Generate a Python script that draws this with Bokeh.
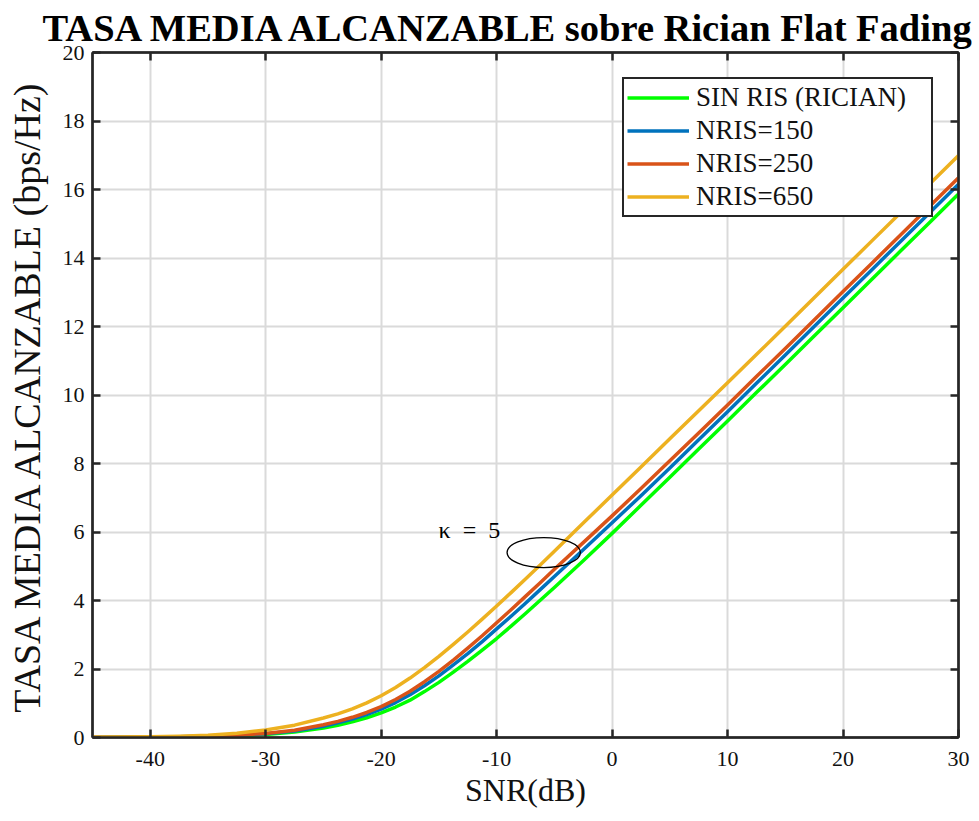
from bokeh.plotting import figure
from bokeh.models import (Range1d, FixedTicker, LinearAxis, Legend, LegendItem,
                          Label, Title, CustomJSTickFormatter)
from bokeh.embed import file_html
from bokeh.resources import INLINE

# ---------------- data ----------------
snr_db = [-45, -42.5, -40, -37.5, -35, -32.5, -30, -27.5,
          -25, -23.75, -22.5, -21.25, -20, -18.75, -17.5, -16.25, -15,
          -13.75, -12.5, -11.25, -10, -8.75, -7.5, -6.25, -5,
          -2.5, 0, 2.5, 5, 7.5, 10, 12.5, 15, 17.5, 20, 22.5, 25, 27.5, 30]

rate_sin_ris = [0.003, 0.005, 0.009, 0.016, 0.028, 0.05, 0.09, 0.16,
                0.28, 0.36, 0.455, 0.575, 0.72, 0.89, 1.09, 1.34, 1.61,
                1.91, 2.22, 2.55, 2.89, 3.25, 3.62, 4.00, 4.38,
                5.16, 5.96, 6.78, 7.60, 8.42, 9.24, 10.07, 10.89, 11.72, 12.55,
                13.38, 14.21, 15.04, 15.87]

rate_nris_150 = [0.0035, 0.006, 0.011, 0.019, 0.034, 0.06, 0.11, 0.19,
                 0.33, 0.43, 0.54, 0.67, 0.83, 1.02, 1.25, 1.51, 1.80,
                 2.12, 2.45, 2.80, 3.17, 3.54, 3.92, 4.31, 4.70,
                 5.48, 6.27, 7.06, 7.87, 8.69, 9.51, 10.34, 11.17, 12.00, 12.83,
                 13.66, 14.49, 15.32, 16.15]

rate_nris_250 = [0.004, 0.007, 0.012, 0.022, 0.039, 0.068, 0.12, 0.21,
                 0.37, 0.47, 0.59, 0.73, 0.90, 1.11, 1.35, 1.63, 1.93,
                 2.26, 2.61, 2.97, 3.35, 3.73, 4.12, 4.51, 4.91,
                 5.69, 6.47, 7.27, 8.08, 8.89, 9.71, 10.54, 11.36, 12.19, 13.02,
                 13.85, 14.68, 15.51, 16.34]

rate_nris_650 = [0.006, 0.011, 0.020, 0.037, 0.068, 0.125, 0.22, 0.36,
                 0.57, 0.69, 0.835, 1.01, 1.22, 1.46, 1.735, 2.04, 2.37,
                 2.72, 3.08, 3.455, 3.84, 4.23, 4.63, 5.03, 5.44,
                 6.26, 7.08, 7.90, 8.72, 9.54, 10.36, 11.18, 12.01, 12.84, 13.67,
                 14.50, 15.33, 16.16, 16.99]

series_labels = ["SIN RIS (RICIAN)", "NRIS=150", "NRIS=250", "NRIS=650"]
series_colors = ["#00FF00", "#0072BD", "#D95319", "#EDB120"]

x_ticks = [-40, -30, -20, -10, 0, 10, 20, 30]
x_tick_labels = ["-40", "-30", "-20", "-10", "0", "10", "20", "30"]
y_ticks = [0, 2, 4, 6, 8, 10, 12, 14, 16, 18, 20]

title_text = "TASA MEDIA ALCANZABLE sobre Rician Flat Fading"
x_label = "SNR(dB)"
y_label = "TASA MEDIA ALCANZABLE (bps/Hz)"

kappa_text = "\u03ba\u2002=\u20025"
kappa_x = [-15.03]
kappa_y = [6.06]
ellipse_x = [-5.92]
ellipse_y = [5.40]
ellipse_w = [6.35]
ellipse_h = [0.876]

# ---------------- figure ----------------
AX = "#262626"
SERIF = "Liberation Serif"
W, H = 975, 817

p = figure(width=W, height=H,
           x_range=Range1d(-45, 30), y_range=Range1d(0, 20),
           output_backend="svg", toolbar_location=None, title=None,
           min_border_left=92, min_border_right=W - 958,
           min_border_top=52, min_border_bottom=H - 737,
           background_fill_color="white", border_fill_color="white",
           outline_line_color=AX, outline_line_width=2)

# grid
for g in (p.xgrid[0], p.ygrid[0]):
    g.grid_line_color = "#dadada"
    g.grid_line_width = 2
p.xgrid[0].ticker = FixedTicker(ticks=x_ticks)
p.ygrid[0].ticker = FixedTicker(ticks=y_ticks)

def style_axis(ax):
    ax.axis_line_color = AX
    ax.axis_line_width = 2.5
    ax.major_tick_line_color = AX
    ax.major_tick_line_width = 2.5
    ax.major_tick_in = 8
    ax.major_tick_out = 0
    ax.minor_tick_line_color = None
    ax.major_label_text_color = "#111111"
    ax.major_label_text_font = SERIF
    ax.axis_label_text_font = SERIF
    ax.axis_label_text_font_style = "normal"
    ax.axis_label_text_color = "#111111"

xa = p.xaxis[0]
style_axis(xa)
xa.ticker = FixedTicker(ticks=x_ticks)
xa.major_label_overrides = {t: s for t, s in zip(x_ticks, x_tick_labels)}
xa.major_label_text_font_size = "22px"
xa.major_label_standoff = 14
xa.axis_label = x_label
xa.axis_label_text_font_size = "32px"
xa.axis_label_standoff = 3

ya = p.yaxis[0]
style_axis(ya)
ya.ticker = FixedTicker(ticks=y_ticks)
ya.major_label_text_font_size = "22px"
ya.major_label_standoff = 8
ya.axis_label = y_label
ya.axis_label_text_font_size = "38px"
ya.axis_label_standoff = 12

blank = CustomJSTickFormatter(code="return ''")
top_ax = LinearAxis(ticker=FixedTicker(ticks=x_ticks), formatter=blank)
style_axis(top_ax)
top_ax.major_label_text_font_size = "1px"
top_ax.major_label_standoff = 0
right_ax = LinearAxis(ticker=FixedTicker(ticks=y_ticks), formatter=blank)
style_axis(right_ax)
right_ax.major_label_text_font_size = "1px"
right_ax.major_label_standoff = 0
p.add_layout(top_ax, "above")
p.add_layout(right_ax, "right")

title = Title(text=title_text, align="left", offset=-50, text_font=SERIF,
              text_font_size="38.5px", text_font_style="bold",
              text_color="#000000", standoff=7)
p.add_layout(title, "above")

# curves
renderers = []
for ys, col in zip([rate_sin_ris, rate_nris_150, rate_nris_250, rate_nris_650], series_colors):
    r = p.line(snr_db, ys, line_color=col, line_width=3.5, line_join="round")
    renderers.append(r)

# annotation
p.ellipse(x=ellipse_x, y=ellipse_y, width=ellipse_w, height=ellipse_h,
          fill_color=None, line_color="black", line_width=1.3)
p.add_layout(Label(x=kappa_x[0], y=kappa_y[0], text=kappa_text,
                   text_font=SERIF, text_font_size="24px",
                   text_color="black", text_baseline="alphabetic"))

legend = Legend(items=[LegendItem(label=l, renderers=[r]) for l, r in zip(series_labels, renderers)],
                location="top_right", margin=25,
                label_text_font=SERIF, label_text_font_size="27px",
                label_text_color="#111111",
                glyph_width=62, glyph_height=31, label_height=31,
                label_width=232, spacing=2, padding=3, label_standoff=7,
                border_line_color=AX, border_line_width=2, border_line_alpha=1,
                background_fill_color="white", background_fill_alpha=1)
p.add_layout(legend)

open("out.html", "w").write(file_html(p, INLINE))
